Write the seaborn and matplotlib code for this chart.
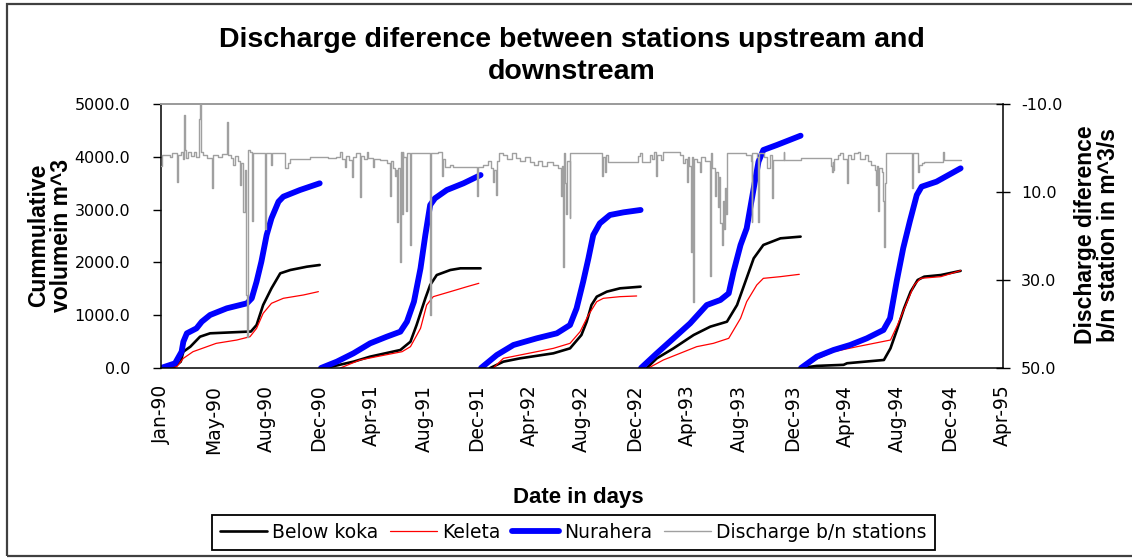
import numpy as np
import pandas as pd
import matplotlib
matplotlib.use("Agg")
import matplotlib.pyplot as plt
import seaborn as sns
from matplotlib.lines import Line2D
from matplotlib.patches import Rectangle

# ---------------------------------------------------------------- data
# x axis: days counted from 1 Jan 1990, date ticks every 120 days
tick_days = list(range(0, 1921, 120))
tick_labels = ["Jan-90", "May-90", "Aug-90", "Dec-90", "Apr-91", "Aug-91",
               "Dec-91", "Apr-92", "Aug-92", "Dec-92", "Apr-93", "Aug-93",
               "Dec-93", "Apr-94", "Aug-94", "Dec-94", "Apr-95"]

years = [1990, 1991, 1992, 1993, 1994]
year_start = [0, 365, 730, 1095, 1460]

# cumulative volume (m^3), day of year -> value, one list per year
nura_doy = [
    [0, 32, 47, 51, 59, 81, 93, 112, 150, 196, 207, 218, 229, 241, 252, 268, 279, 317, 362],
    [0, 36, 74, 112, 150, 181, 196, 212, 227, 238, 249, 260, 287, 325, 364],
    [0, 36, 74, 127, 173, 203, 218, 233, 245, 256, 271, 294, 325, 364],
    [0, 36, 74, 112, 150, 181, 200, 211, 227, 241, 257, 268, 279, 310, 364],
    [0, 36, 74, 112, 150, 188, 203, 218, 233, 248, 264, 275, 309, 364],
]
nura_val = [
    [0, 88, 309, 498, 657, 751, 877, 1004, 1130, 1225, 1320, 1635, 2014, 2519, 2835, 3150, 3245, 3371, 3498],
    [0, 120, 278, 467, 593, 688, 877, 1256, 1888, 2519, 3087, 3214, 3371, 3498, 3655],
    [0, 246, 436, 562, 657, 814, 1130, 1635, 2077, 2519, 2740, 2898, 2948, 2993],
    [0, 278, 562, 846, 1193, 1288, 1414, 1824, 2330, 2646, 3403, 3908, 4129, 4224, 4400],
    [0, 215, 341, 436, 562, 720, 941, 1635, 2267, 2772, 3277, 3434, 3529, 3782],
]

koka_doy = [
    [0, 30, 45, 51, 67, 89, 112, 196, 205, 218, 233, 252, 272, 295, 333, 362],
    [10, 74, 112, 181, 204, 218, 238, 249, 264, 295, 318, 364],
    [21, 51, 89, 165, 203, 229, 241, 252, 264, 287, 317, 364],
    [13, 36, 74, 120, 158, 196, 219, 238, 257, 279, 318, 364],
    [0, 36, 97, 105, 189, 204, 220, 235, 250, 266, 281, 319, 364],
]
koka_val = [
    [0, 20, 120, 309, 404, 593, 657, 688, 690, 814, 1193, 1509, 1793, 1856, 1919, 1951],
    [0, 120, 215, 341, 498, 814, 1320, 1572, 1761, 1856, 1888, 1888],
    [0, 120, 183, 278, 372, 625, 877, 1193, 1351, 1446, 1509, 1540],
    [0, 183, 372, 625, 783, 877, 1193, 1635, 2077, 2330, 2456, 2488],
    [0, 40, 60, 90, 152, 372, 751, 1130, 1446, 1667, 1730, 1761, 1840],
]

keleta_doy = [
    [0, 36, 51, 73, 126, 173, 203, 218, 233, 252, 279, 325, 359],
    [44, 89, 127, 185, 204, 227, 241, 256, 295, 333, 360],
    [28, 51, 89, 165, 203, 226, 245, 264, 279, 317, 355],
    [17, 51, 89, 127, 165, 200, 227, 241, 264, 279, 318, 361],
    [4, 36, 74, 128, 166, 204, 220, 239, 258, 273, 319, 364],
]
keleta_val = [
    [0, 25, 183, 309, 467, 530, 593, 751, 1035, 1225, 1320, 1383, 1446],
    [0, 152, 215, 309, 404, 751, 1193, 1351, 1446, 1540, 1604],
    [0, 183, 246, 372, 467, 688, 1004, 1256, 1320, 1351, 1364],
    [0, 152, 278, 404, 467, 562, 941, 1256, 1572, 1698, 1730, 1774],
    [0, 170, 309, 404, 467, 530, 814, 1193, 1572, 1698, 1730, 1845],
]

# daily discharge difference between stations (m^3/s), days from 1 Jan 1990
gray_days_1990 = [0, 3, 20, 24, 36, 38, 45, 50, 53, 55, 58, 62, 68, 75, 80, 86, 89, 92, 96, 105,
                  116, 118, 130, 140, 150, 152, 160, 165, 168, 175, 180, 183, 188, 191, 195, 197,
                  199, 203, 207, 209, 237, 240, 252, 254, 283, 290, 294, 340]
gray_vals_1990 = [4.2, 1.6, 2.0, 1.2, 7.7, 1.6, 1.0, 2.4, -7.5, 0.5, 2.2, 1.0, 1.8, 0.8, 2.0, -6.7,
                  -9.9, 0.8, 1.6, 2.2, 9.2, 1.6, 2.0, 1.4, -6.0, 1.6, 2.3, 3.9, 1.8, 3.0, 8.4, 3.5,
                  14.5, 5.0, 33.4, 43.0, 0.5, 1.0, 16.7, 1.2, 18.3, 1.2, 3.9, 1.2, 4.6, 3.4, 2.4, 2.0]
gray_days_1991 = [380, 400, 408, 412, 419, 421, 428, 435, 437, 445, 454, 456, 462, 469, 472, 484,
                  486, 500, 515, 522, 524, 530, 534, 536, 539, 541, 545, 547, 549, 551, 553, 560,
                  562, 568, 570, 614, 616, 632, 640, 643, 648, 660, 667, 690, 720, 722]
gray_vals_1991 = [2.3, 2.0, 0.8, 2.6, 4.3, 1.8, 2.8, 6.5, 2.0, 1.2, 11.1, 1.8, 2.5, 1.0, 2.2, 4.3,
                  2.5, 2.8, 3.5, 10.9, 3.0, 4.5, 6.3, 5.0, 16.8, 4.5, 25.8, 1.0, 14.9, 1.0, 2.0, 14.3,
                  1.2, 22.0, 1.2, 38.0, 1.2, 0.8, 6.3, 2.5, 4.3, 3.9, 4.3, 4.3, 10.9, 4.3]
gray_days_1992 = [735, 745, 752, 758, 760, 765, 767, 770, 780, 790, 800, 810, 820, 830, 841, 850,
                  860, 870, 880, 895, 905, 913, 915, 917, 919, 921, 923, 926, 932, 934, 1005, 1008,
                  1012, 1015, 1020, 1060, 1088]
gray_vals_1992 = [3.9, 3.0, 4.5, 7.7, 5.0, 10.6, 3.0, 1.2, 1.5, 2.5, 1.2, 2.2, 3.0, 2.0, 3.1, 3.9,
                  3.0, 4.0, 3.1, 3.9, 4.5, 10.9, 4.0, 27.0, 1.2, 8.0, 14.9, 3.0, 16.0, 1.2, 6.3, 2.0,
                  5.5, 1.5, 3.1, 3.1, 1.8]
gray_days_1993 = [1092, 1098, 1115, 1120, 1125, 1130, 1132, 1140, 1146, 1184, 1190, 1195, 1199,
                  1201, 1205, 1210, 1212, 1214, 1216, 1222, 1229, 1231, 1240, 1252, 1254, 1258,
                  1263, 1265, 1271, 1273, 1276, 1279, 1281, 1284, 1286, 1288, 1290, 1335, 1345,
                  1347, 1349, 1360, 1362, 1364, 1375, 1383, 1390, 1393, 1395, 1420, 1422]
gray_vals_1993 = [1.2, 3.1, 1.5, 2.5, 1.0, 6.3, 1.5, 2.7, 0.8, 1.5, 3.5, 2.5, 7.7, 2.0, 4.0, 23.6,
                  2.0, 34.9, 2.5, 3.1, 5.4, 2.0, 3.0, 29.0, 1.2, 4.5, 10.9, 5.5, 13.3, 6.5, 17.0,
                  22.0, 12.0, 18.4, 9.0, 15.0, 1.2, 1.5, 3.0, 16.8, 1.2, 2.0, 16.8, 1.2, 2.0, 4.5,
                  1.5, 11.4, 2.7, 0.8, 2.7]
gray_days_1994 = [1460, 1528, 1530, 1532, 1534, 1536, 1545, 1550, 1555, 1564, 1566, 1575, 1580,
                  1590, 1595, 1605, 1612, 1620, 1628, 1632, 1634, 1636, 1638, 1644, 1647, 1649,
                  1651, 1654, 1714, 1716, 1727, 1730, 1735, 1740, 1784, 1786, 1825]
gray_vals_1994 = [2.35, 4.0, 5.4, 3.1, 5.0, 2.5, 1.6, 1.2, 2.5, 7.9, 1.5, 2.5, 1.2, 0.8, 2.5, 1.6,
                  3.0, 3.9, 5.0, 8.4, 4.0, 14.3, 4.5, 5.4, 12.0, 22.4, 8.0, 1.2, 9.2, 1.2, 5.4, 3.9,
                  3.5, 3.1, 0.8, 2.7, 2.7]

series_names = ["Below koka", "Keleta", "Nurahera", "Discharge b/n stations"]

# ---------------------------------------------------------------- tables
def year_table(doy_lists, val_lists):
    rows = []
    for yr, start, doys, vals in zip(years, year_start, doy_lists, val_lists):
        for d, v in zip(doys, vals):
            rows.append({"year": yr, "day": start + d, "volume": v})
    return pd.DataFrame(rows)

koka_df = year_table(koka_doy, koka_val)
keleta_df = year_table(keleta_doy, keleta_val)
nura_df = year_table(nura_doy, nura_val)

gray_df = pd.DataFrame({
    "day": gray_days_1990 + gray_days_1991 + gray_days_1992 + gray_days_1993 + gray_days_1994,
    "diff": gray_vals_1990 + gray_vals_1991 + gray_vals_1992 + gray_vals_1993 + gray_vals_1994,
})

# ---------------------------------------------------------------- figure
sns.set_theme(style="white")
plt.rcParams["font.family"] = ["DejaVu Sans"]
plt.rcParams["text.color"] = "black"
plt.rcParams["axes.labelcolor"] = "black"
plt.rcParams["xtick.color"] = "black"
plt.rcParams["ytick.color"] = "black"

W, H = 1132, 558
fig = plt.figure(figsize=(W / 100, H / 100), dpi=100)
fig.patch.set_facecolor("white")

x0, x1, y_top, y_bot = 161, 1002.7, 104, 368
ax = fig.add_axes([x0 / W, 1 - y_bot / H, (x1 - x0) / W, (y_bot - y_top) / H])
ax.set_facecolor("white")

black, red, blue, gray = "#000000", "#ff0000", "#0000ff", "#a0a0a0"
lw_koka, lw_keleta, lw_nura, lw_gray = 1.9, 0.9, 4.2, 1.0

sns.lineplot(data=koka_df, x="day", y="volume", units="year", estimator=None,
             color=black, linewidth=lw_koka, ax=ax, legend=False)
sns.lineplot(data=keleta_df, x="day", y="volume", units="year", estimator=None,
             color=red, linewidth=lw_keleta, ax=ax, legend=False)
sns.lineplot(data=nura_df, x="day", y="volume", units="year", estimator=None,
             color=blue, linewidth=lw_nura, ax=ax, legend=False)

ax.set_xlim(0, 1920)
ax.set_ylim(0, 5000)
ax.set_xticks(tick_days)
ax.set_xticklabels(tick_labels, rotation=90, fontsize=13.5, color="black")
ax.set_yticks(range(0, 5001, 1000))
ax.set_yticklabels([f"{v:.1f}" for v in range(0, 5001, 1000)], fontsize=11.5, color="black")
ax.tick_params(axis="y", direction="out", length=6, width=1, pad=16, colors="black")
ax.tick_params(axis="x", direction="out", length=6, width=1, pad=6, colors="black")
ax.set_xlabel("")
ax.set_ylabel("")
for side in ("left", "bottom"):
    ax.spines[side].set_color("black")
    ax.spines[side].set_linewidth(1.1)
ax.spines["top"].set_color("#9a9a9a")
ax.spines["top"].set_linewidth(1.4)
ax.spines["right"].set_visible(False)

# secondary axis for the discharge difference (reversed scale)
ax2 = ax.twinx()
sns.lineplot(data=gray_df, x="day", y="diff", estimator=None, color=gray,
             linewidth=lw_gray, drawstyle="steps-post", ax=ax2, legend=False)
ax2.set_ylim(50, -10)
ax2.set_yticks([-10, 10, 30, 50])
ax2.set_yticklabels([f"{v:.1f}" for v in [-10, 10, 30, 50]], fontsize=11.5, color="black")
ax2.tick_params(axis="y", direction="inout", length=10, width=1, pad=8, colors="black")
ax2.set_ylabel("")
ax2.set_xlabel("")
for side in ("left", "bottom", "top"):
    ax2.spines[side].set_visible(False)
ax2.spines["right"].set_color("black")
ax2.spines["right"].set_linewidth(1.1)

# ---------------------------------------------------------------- texts
bold = dict(family=["Liberation Sans", "DejaVu Sans"], weight="bold", color="black")
fig.text(572 / W, 1 - 56 / H, "Discharge diference between stations upstream and\ndownstream",
         ha="center", va="center", fontsize=20.5, linespacing=1.32, **bold)
fig.text(50 / W, 1 - 235 / H, "Cummulative\nvolumein m^3", rotation=90,
         ha="center", va="center", fontsize=16.5, linespacing=1.0, **bold)
fig.text(1097 / W, 1 - 235 / H, "Discharge diference\nb/n station in m^3/s", rotation=90,
         ha="center", va="center", fontsize=16.5, linespacing=1.0, **bold)
fig.text(578 / W, 1 - 497 / H, "Date in days", ha="center", va="center",
         fontsize=16, **bold)

handles = [
    Line2D([], [], color=black, linewidth=lw_koka),
    Line2D([], [], color=red, linewidth=lw_keleta),
    Line2D([], [], color=blue, linewidth=lw_nura),
    Line2D([], [], color=gray, linewidth=lw_gray),
]
leg = fig.legend(handles, series_names, loc="center",
                 bbox_to_anchor=(573.5 / W, 1 - 532.5 / H), ncol=4, frameon=True,
                 fancybox=False, framealpha=1, edgecolor="black", fontsize=13.5,
                 handlelength=2.5, handletextpad=0.3, columnspacing=0.6,
                 borderpad=0.45, borderaxespad=0)
leg.get_frame().set_linewidth(1.3)
for t in leg.get_texts():
    t.set_color("black")

# outer chart border
fig.patches.append(Rectangle((7 / W, 2 / H), 1.2, 552 / H, transform=fig.transFigure,
                             fill=False, edgecolor="#404040", linewidth=1.6))

fig.savefig("out.png", dpi=100, facecolor="white")
